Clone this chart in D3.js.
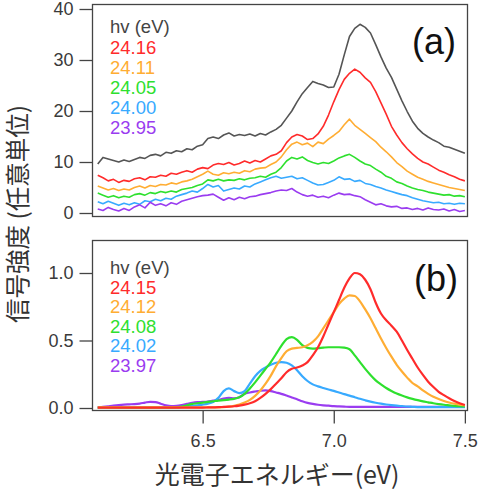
<!DOCTYPE html>
<html><head><meta charset="utf-8">
<script src="https://cdn.jsdelivr.net/npm/d3@7"></script>
<style>
html,body{margin:0;padding:0;background:#fff;}
svg{display:block;}
</style></head>
<body>
<svg id="chart" width="480" height="493"></svg>
<script>
// ---- DATA ----
const energy = [6.10,6.12,6.14,6.16,6.18,6.20,6.22,6.24,6.26,6.28,
  6.30,6.32,6.34,6.36,6.38,6.40,6.42,6.44,6.46,6.48,
  6.50,6.52,6.54,6.56,6.58,6.60,6.62,6.64,6.66,6.68,
  6.70,6.72,6.74,6.76,6.78,6.80,6.82,6.84,6.86,6.88,
  6.90,6.92,6.94,6.96,6.98,7.00,7.02,7.04,7.06,7.08,
  7.10,7.12,7.14,7.16,7.18,7.20,7.22,7.24,7.26,7.28,
  7.30,7.32,7.34,7.36,7.38,7.40,7.42,7.44,7.46,7.48,
  7.50];

// Panel (a): raw spectra (arbitrary units)
const labelsA = ["24.16","24.11","24.05","24.00","23.95"];
const sumA = [9.6,10.9,10.6,10.3,10.0,10.4,10.1,10.5,10.9,10.7,
  11.3,11.5,11.2,11.9,11.7,12.2,12.0,12.6,12.4,13.1,
  13.4,14.6,14.9,14.6,15.3,15.7,15.1,15.4,15.2,15.5,
  15.1,15.6,15.3,15.9,16.4,17.2,18.6,20.0,21.8,23.4,
  24.6,25.8,25.4,25.1,24.6,24.7,27.2,31.0,34.6,36.2,
  37.0,36.4,35.3,33.0,30.6,28.4,26.6,24.3,22.0,19.9,
  18.0,16.6,15.6,14.9,14.3,13.8,13.1,12.9,12.5,12.1,
  11.7];
const a2416 = [7.4,6.9,6.3,6.6,6.0,6.4,6.2,6.7,6.9,6.5,
  7.1,7.0,7.4,7.2,7.8,7.6,8.0,8.3,8.0,8.6,
  8.9,8.7,9.4,9.7,9.5,9.9,9.4,9.7,10.2,9.8,
  10.3,10.0,10.6,11.2,11.5,12.2,13.8,14.9,15.4,15.1,
  14.4,14.6,15.5,17.0,19.2,21.8,24.2,26.2,27.4,28.2,
  27.6,26.5,25.6,23.8,21.6,19.4,17.0,15.3,13.8,12.6,
  11.6,10.7,10.0,9.6,9.0,8.4,8.0,7.5,7.1,6.6,
  6.3];
const a2411 = [5.3,4.9,4.5,4.8,4.4,4.7,4.5,5.0,5.3,4.9,
  5.4,5.2,5.6,5.5,5.9,5.7,6.1,6.3,6.6,7.1,
  7.6,8.2,7.6,7.4,7.9,7.7,8.0,7.8,8.3,8.1,
  8.6,8.8,8.9,9.5,10.0,11.0,12.4,13.5,13.9,13.4,
  13.7,13.0,13.9,13.6,14.5,15.2,16.0,17.3,18.4,17.2,
  16.4,15.6,14.8,14.0,12.9,12.0,11.0,9.9,9.1,8.2,
  7.6,7.0,6.6,6.2,5.9,5.6,5.3,5.0,4.8,4.6,
  4.4];
const a2405 = [3.9,3.5,3.1,3.4,3.0,3.3,3.1,3.6,3.8,3.5,
  4.0,3.8,4.2,4.0,4.3,4.1,4.6,4.8,5.0,5.4,
  5.7,6.5,6.3,6.6,6.3,6.5,6.4,6.7,6.5,6.8,
  6.9,7.2,7.0,7.6,8.0,8.9,10.2,10.9,10.6,11.0,
  10.3,9.9,9.6,9.9,9.7,10.2,10.8,11.2,11.5,10.9,
  10.2,9.6,9.3,8.6,8.0,7.2,6.8,6.1,5.8,5.3,
  4.9,4.6,4.4,4.1,3.9,3.7,3.5,3.6,3.3,3.4,
  3.2];
const a2400 = [2.2,1.8,2.3,1.9,1.5,1.9,1.6,2.0,1.7,2.4,
  2.2,2.7,2.4,2.9,2.7,3.3,3.6,3.9,4.3,4.1,
  4.8,5.6,5.1,5.4,4.3,4.6,4.9,4.7,5.3,5.1,
  5.7,6.1,6.5,6.9,7.2,6.8,7.0,7.2,6.7,6.9,
  6.4,5.9,5.5,5.6,6.0,6.4,7.1,6.6,6.7,6.2,
  6.4,5.8,5.6,5.2,4.9,4.5,4.2,3.9,3.6,3.4,
  3.0,2.7,2.4,2.2,2.0,2.1,1.8,1.9,1.7,1.9,
  1.8];
const a2395 = [0.8,0.5,1.1,0.7,0.4,0.9,0.5,1.2,1.6,1.0,
  2.1,1.5,1.8,1.4,2.0,1.7,2.3,2.6,2.9,3.2,
  3.4,3.5,3.7,3.1,2.5,3.0,2.6,3.1,2.8,3.2,
  3.3,3.6,3.8,4.0,4.3,4.5,4.4,4.8,4.1,3.6,
  3.3,3.5,3.1,3.3,3.0,3.5,3.9,3.6,3.7,3.4,
  3.2,2.6,2.1,1.6,1.8,1.4,1.2,1.3,0.9,1.0,
  0.7,0.9,0.6,1.0,0.7,0.6,0.8,0.4,0.7,0.3,
  0.5];

// Panel (b): normalized components
const labelsB = ["24.15","24.12","24.08","24.02","23.97"];
const b2415 = [0.003,0.003,0.003,0.003,0.003,0.003,0.003,0.003,0.003,0.003,
  0.003,0.003,0.003,0.003,0.003,0.003,0.003,0.003,0.003,0.003,
  0.003,0.004,0.005,0.006,0.008,0.010,0.013,0.018,0.025,0.035,
  0.050,0.075,0.105,0.140,0.180,0.220,0.265,0.290,0.300,0.315,
  0.340,0.390,0.450,0.530,0.620,0.710,0.800,0.890,0.960,1.000,
  0.990,0.950,0.880,0.780,0.700,0.650,0.610,0.565,0.500,0.430,
  0.365,0.300,0.245,0.195,0.155,0.120,0.095,0.072,0.052,0.035,
  0.022];
const b2412 = [0.004,0.004,0.004,0.004,0.004,0.004,0.004,0.004,0.004,0.004,
  0.004,0.004,0.004,0.004,0.004,0.004,0.004,0.004,0.004,0.004,
  0.004,0.004,0.004,0.004,0.006,0.010,0.016,0.025,0.040,0.060,
  0.090,0.130,0.180,0.240,0.310,0.370,0.420,0.440,0.445,0.450,
  0.465,0.490,0.530,0.590,0.650,0.710,0.770,0.810,0.835,0.830,
  0.790,0.730,0.665,0.590,0.515,0.445,0.380,0.320,0.270,0.225,
  0.185,0.160,0.130,0.105,0.083,0.066,0.052,0.041,0.032,0.025,
  0.020];
const b2408 = [0.003,0.003,0.003,0.003,0.003,0.003,0.003,0.003,0.003,0.003,
  0.003,0.003,0.003,0.003,0.003,0.006,0.010,0.020,0.030,0.035,
  0.040,0.045,0.050,0.055,0.058,0.062,0.068,0.080,0.105,0.145,
  0.190,0.240,0.290,0.340,0.400,0.460,0.510,0.525,0.505,0.465,
  0.445,0.440,0.443,0.447,0.450,0.450,0.450,0.447,0.435,0.390,
  0.340,0.290,0.245,0.205,0.175,0.148,0.126,0.107,0.092,0.079,
  0.068,0.058,0.049,0.042,0.035,0.029,0.024,0.020,0.016,0.013,
  0.011];
const b2402 = [0.003,0.003,0.003,0.003,0.003,0.003,0.003,0.003,0.003,0.003,
  0.003,0.003,0.003,0.003,0.003,0.003,0.006,0.010,0.015,0.020,
  0.025,0.032,0.045,0.075,0.125,0.145,0.125,0.110,0.125,0.180,
  0.235,0.275,0.300,0.320,0.335,0.340,0.335,0.315,0.280,0.235,
  0.200,0.175,0.160,0.148,0.137,0.127,0.115,0.103,0.092,0.080,
  0.068,0.057,0.047,0.039,0.032,0.026,0.021,0.017,0.014,0.011,
  0.009,0.007,0.007,0.007,0.007,0.007,0.007,0.007,0.007,0.007,
  0.007];
const b2397 = [0.003,0.008,0.013,0.018,0.022,0.025,0.027,0.029,0.033,0.040,
  0.046,0.044,0.032,0.020,0.014,0.016,0.022,0.030,0.038,0.043,
  0.045,0.048,0.055,0.060,0.070,0.075,0.072,0.080,0.105,0.115,
  0.122,0.128,0.130,0.125,0.115,0.105,0.092,0.078,0.065,0.050,
  0.038,0.030,0.024,0.020,0.017,0.014,0.012,0.010,0.008,0.008,
  0.008,0.008,0.008,0.008,0.008,0.008,0.008,0.008,0.008,0.008,
  0.008,0.008,0.008,0.008,0.008,0.008,0.008,0.008,0.008,0.008,
  0.008];

const ticksA = [0,10,20,30,40];
const ticksB = [0,0.5,1.0];
const ticksX = [6.5,7.0,7.5];

// ---- STYLE ----
const colors = ["#ff2b2b","#ffad33","#2ee02e","#38aaff","#9a3cf0"];
const grayColor = "#555555";
const font = "'Liberation Sans', Arial, Helvetica, sans-serif";
const cjk = "'Noto Sans CJK JP', 'Noto Sans CJK SC', sans-serif";

const svg = d3.select("#chart");
const x = d3.scaleLinear().domain([6.08, 7.51]).range([92.5, 467.5]);
const yA = d3.scaleLinear().domain([0, 40]).range([213, 9]);
const yB = d3.scaleLinear().domain([0, 1]).range([408, 273]);

function axisStyle(g){
  g.select(".domain").remove();
  g.selectAll(".tick line").attr("stroke","#444").attr("stroke-width",1.3);
  g.selectAll(".tick text").attr("fill","#3a3a3a").style("font-family",font).style("font-size","18px");
}

// Panel (a)
const gA = svg.append("g");
gA.append("g").attr("transform","translate(92.5,0)")
  .call(d3.axisLeft(yA).tickValues(ticksA).tickSize(13).tickPadding(6))
  .call(axisStyle);
const lineA = d3.line().x((d,i)=>x(energy[i])).y(d=>yA(d));
const seriesA = [a2416,a2411,a2405,a2400,a2395];
gA.append("path").datum(sumA).attr("d",lineA).attr("fill","none")
  .attr("stroke",grayColor).attr("stroke-width",1.6).attr("stroke-linejoin","round");
seriesA.forEach((s,k)=>{
  gA.append("path").datum(s).attr("d",lineA).attr("fill","none")
    .attr("stroke",colors[k]).attr("stroke-width",1.6).attr("stroke-linejoin","round");
});
gA.append("rect").attr("x",92.5).attr("y",4.5).attr("width",375).attr("height",212)
  .attr("fill","none").attr("stroke","#444").attr("stroke-width",1.3);

// legend (a)
const legA = gA.append("g").style("font-family",font).style("font-size","18.5px");
legA.append("text").attr("x",110).attr("y",33).attr("fill","#444").text("hv (eV)");
labelsA.forEach((t,k)=>{
  legA.append("text").attr("x",110).attr("y",53.5+20*k).attr("fill",colors[k]).text(t);
});
gA.append("text").attr("x",456).attr("y",54).attr("text-anchor","end")
  .style("font-family",font).style("font-size","36px").attr("fill","#111").text("(a)");

// Panel (b)
const gB = svg.append("g");
gB.append("g").attr("transform","translate(92.5,0)")
  .call(d3.axisLeft(yB).tickValues(ticksB).tickFormat(d3.format(".1f")).tickSize(13).tickPadding(6))
  .call(axisStyle);
gB.append("g").attr("transform","translate(0,410.5)")
  .call(d3.axisBottom(x).tickValues(ticksX).tickFormat(d3.format(".1f")).tickSize(13).tickPadding(11))
  .call(axisStyle);
const lineB = d3.line().x((d,i)=>x(energy[i])).y(d=>yB(d)).curve(d3.curveMonotoneX);
const seriesB = [b2415,b2412,b2408,b2402,b2397];
[4,3,2,1,0].forEach(k=>{
  gB.append("path").datum(seriesB[k]).attr("d",lineB).attr("fill","none")
    .attr("stroke",colors[k]).attr("stroke-width",2.2).attr("stroke-linejoin","round");
});
gB.append("rect").attr("x",92.5).attr("y",240.5).attr("width",375).attr("height",170)
  .attr("fill","none").attr("stroke","#444").attr("stroke-width",1.3);

const legB = gB.append("g").style("font-family",font).style("font-size","18.5px");
legB.append("text").attr("x",110).attr("y",274).attr("fill","#444").text("hv (eV)");
labelsB.forEach((t,k)=>{
  legB.append("text").attr("x",110).attr("y",293.5+19.5*k).attr("fill",colors[k]).text(t);
});
gB.append("text").attr("x",458).attr("y",291).attr("text-anchor","end")
  .style("font-family",font).style("font-size","36px").attr("fill","#111").text("(b)");

// Axis titles
svg.append("text").attr("x",277).attr("y",484).attr("text-anchor","middle")
  .style("font-family",cjk).style("font-size","25px").attr("fill","#333")
  .text("光電子エネルギー(eV)");
svg.append("text").attr("transform","translate(27,214) rotate(-90)").attr("text-anchor","middle")
  .style("font-family",cjk).style("font-size","24.5px").attr("fill","#333")
  .text("信号強度 (任意単位)");
</script>
</body></html>
